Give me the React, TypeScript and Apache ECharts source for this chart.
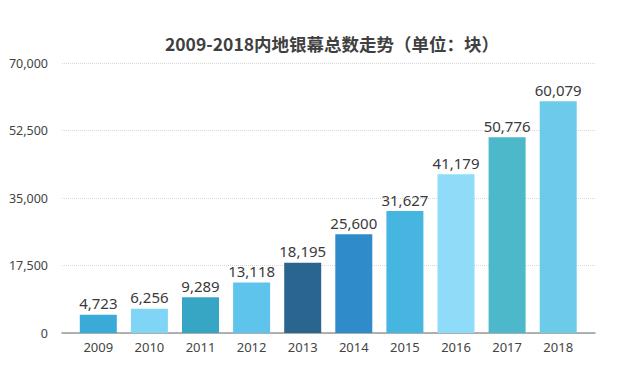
import React, { useEffect, useRef } from "react";
import * as echarts from "echarts";

const years = ["2009", "2010", "2011", "2012", "2013", "2014", "2015", "2016", "2017", "2018"];
const screens = [4723, 6256, 9289, 13118, 18195, 25600, 31627, 41179, 50776, 60079];
const barColors = ["#3aaad9", "#80d4f6", "#37a6c5", "#5fc4eb", "#2a6590", "#2f8bc9", "#46b6e1", "#8fdcf8", "#4db8c9", "#6dcbea"];
const yTicks = [0, 17500, 35000, 52500, 70000];

export default function App() {
  const ref = useRef<HTMLDivElement>(null);
  useEffect(() => {
    const chart = echarts.init(ref.current!, undefined, { renderer: "svg" });
    const font = "'Noto Sans', 'Noto Sans CJK SC', sans-serif";
    chart.setOption({
      animation: false,
      backgroundColor: "#ffffff",
      title: {
        text: "2009-2018内地银幕总数走势（单位：块）",
        left: 327,
        textAlign: "center",
        top: 30,
        textStyle: { fontFamily: "'Noto Sans CJK SC', sans-serif", fontSize: 17.5, fontWeight: "bold", color: "#404040" },
      },
      grid: [
        { left: 62, right: 25, top: 63, bottom: 38 },
        { left: 72.75, width: 511, top: 63, bottom: 38 },
      ],
      xAxis: [
        {
          type: "category",
          gridIndex: 0,
          data: years,
          axisLine: { lineStyle: { color: "#999", width: 1.5 } },
          axisTick: { show: false },
          axisLabel: { show: false },
        },
        {
          type: "category",
          gridIndex: 1,
          data: years,
          axisLine: { show: false },
          axisTick: { show: false },
          axisLabel: { color: "#444", fontSize: 13, fontFamily: font, margin: 7 },
        },
      ],
      yAxis: [
        {
          type: "value",
          gridIndex: 0,
          min: yTicks[0],
          max: yTicks[yTicks.length - 1],
          interval: 17500,
          axisLine: { show: false },
          axisTick: { show: false },
          axisLabel: {
            color: "#444",
            fontSize: 12.5,
            fontFamily: font,
            margin: 14,
            formatter: (v: number) => v.toLocaleString("en-US"),
          },
          splitLine: { lineStyle: { color: "#d8d8d8", type: "dotted", width: 1 } },
        },
        {
          type: "value",
          gridIndex: 1,
          min: yTicks[0],
          max: yTicks[yTicks.length - 1],
          interval: 17500,
          axisLine: { show: false },
          axisTick: { show: false },
          axisLabel: { show: false },
          splitLine: { show: false },
        },
      ],
      series: [
        {
          type: "bar",
          xAxisIndex: 1,
          yAxisIndex: 1,
          barWidth: 37,
          data: screens.map((v, i) => ({ value: v, itemStyle: { color: barColors[i] } })),
          label: {
            show: true,
            position: "top",
            distance: 4,
            color: "#3a3a3a",
            fontSize: 15,
            fontFamily: font,
            formatter: (p: any) => Number(p.value).toLocaleString("en-US"),
          },
        },
      ],
    });
    return () => chart.dispose();
  }, []);
  return <div ref={ref} style={{ width: 620, height: 371, position: "absolute", left: 0, top: 0 }} />;
}
